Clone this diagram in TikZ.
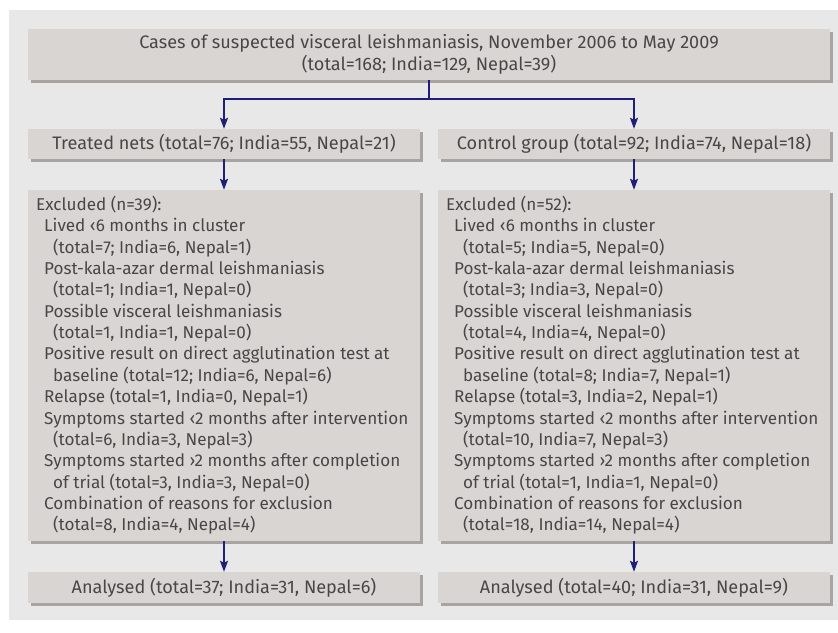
\documentclass[tikz,border=0pt]{standalone}
\usepackage{fontspec}
\setmainfont{Fira Sans}
\usetikzlibrary{arrows.meta,shadows}
\definecolor{bgc}{HTML}{E8E8E8}
\definecolor{boxc}{HTML}{D9D5D2}
\definecolor{shadc}{HTML}{A8A4A1}
\definecolor{txtc}{HTML}{474747}
\definecolor{arrc}{HTML}{1F1F7A}
\newcommand{\ia}{\hspace*{8pt}}
\newcommand{\ib}{\hspace*{17pt}}
\begin{document}
\begin{tikzpicture}[x=1pt,y=-1pt,
  box/.style={fill=boxc, draw=none, inner sep=0pt, text=txtc, align=center,
    font=\fontsize{18.1}{21.5}\selectfont,
    drop shadow={shadow xshift=3pt, shadow yshift=-3pt, fill=shadc, opacity=1}},
  extxt/.style={inner sep=0pt, anchor=base west, text=txtc},
  arr/.style={draw=arrc, line width=1.8pt, -{Stealth[length=11pt,width=8pt,inset=2pt]}}]
\useasboundingbox (0,0) rectangle (838,632);
\fill[bgc] (9,10) rectangle (838,620);
\node[box, minimum width=802pt, minimum height=51pt] (top) at (429,54.5)
  {Cases of suspected visceral leishmaniasis, November 2006 to May 2009\\(total=168; India=129, Nepal=39)};
\node[box, minimum width=392pt, minimum height=30pt] (treat) at (224,144)
  {Treated nets (total=76; India=55, Nepal=21)};
\node[box, minimum width=392pt, minimum height=30pt] (ctrl) at (634,144)
  {Control group (total=92; India=74, Nepal=18)};
\node[box, minimum width=392pt, minimum height=351pt] (exL) at (224,365.5) {};
\node[box, minimum width=392pt, minimum height=351pt] (exR) at (634,365.5) {};
\node[box, minimum width=392pt, minimum height=31pt] (anL) at (224,587.5)
  {Analysed (total=37; India=31, Nepal=6)};
\node[box, minimum width=392pt, minimum height=31pt] (anR) at (634,587.5)
  {Analysed (total=40; India=31, Nepal=9)};
\node[extxt] (exLt) at (36,210.5) {\parbox[t]{380pt}{\fontsize{17.1}{21.35}\selectfont\raggedright
Excluded (n=39):\\
\ia Lived ‹6 months in cluster\\
\ib (total=7; India=6, Nepal=1)\\
\ia Post-kala-azar dermal leishmaniasis\\
\ib (total=1; India=1, Nepal=0)\\
\ia Possible visceral leishmaniasis\\
\ib (total=1, India=1, Nepal=0)\\
\ia Positive result on direct agglutination test at\\
\ib baseline (total=12; India=6, Nepal=6)\\
\ia Relapse (total=1, India=0, Nepal=1)\\
\ia Symptoms started ‹2 months after intervention\\
\ib (total=6, India=3, Nepal=3)\\
\ia Symptoms started ›2 months after completion\\
\ib of trial (total=3, India=3, Nepal=0)\\
\ia Combination of reasons for exclusion\\
\ib (total=8, India=4, Nepal=4)}};
\node[extxt] (exRt) at (446,210.5) {\parbox[t]{380pt}{\fontsize{17.1}{21.35}\selectfont\raggedright
Excluded (n=52):\\
\ia Lived ‹6 months in cluster\\
\ib (total=5; India=5, Nepal=0)\\
\ia Post-kala-azar dermal leishmaniasis\\
\ib (total=3; India=3, Nepal=0)\\
\ia Possible visceral leishmaniasis\\
\ib (total=4, India=4, Nepal=0)\\
\ia Positive result on direct agglutination test at\\
\ib baseline (total=8; India=7, Nepal=1)\\
\ia Relapse (total=3, India=2, Nepal=1)\\
\ia Symptoms started ‹2 months after intervention\\
\ib (total=10, India=7, Nepal=3)\\
\ia Symptoms started ›2 months after completion\\
\ib of trial (total=1, India=1, Nepal=0)\\
\ia Combination of reasons for exclusion\\
\ib (total=18, India=14, Nepal=4)}};
\coordinate (split) at (429,99);
\draw[draw=arrc, line width=1.8pt] (top.south) -- (split);
\draw[arr] (split) -| (treat.north);
\draw[arr] (split) -| (ctrl.north);
\draw[arr] (treat.south) -- (exL.north);
\draw[arr] (ctrl.south) -- (exR.north);
\draw[arr] (exL.south) -- (anL.north);
\draw[arr] (exR.south) -- (anR.north);
\end{tikzpicture}
\end{document}
